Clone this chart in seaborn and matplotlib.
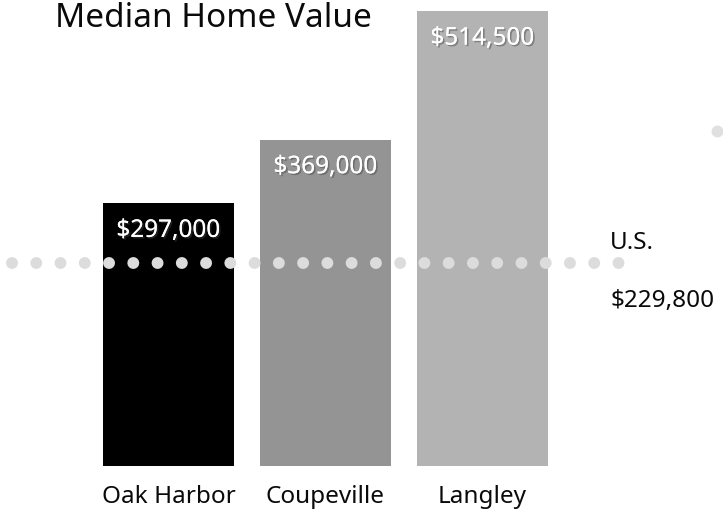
import matplotlib
matplotlib.use("Agg")
import matplotlib.pyplot as plt
import matplotlib.patheffects as pe
import seaborn as sns
import pandas as pd

# Median home values
cities = ["Oak Harbor", "Coupeville", "Langley"]
values = [297000, 369000, 514500]
bar_colors = ["#000000", "#949494", "#b3b3b3"]
us_label = "U.S."
us_value = 229800
title = "Median Home Value"

sns.set_theme(style="white")
FONT = ["Noto Sans", "DejaVu Sans"]
plt.rcParams["font.family"] = FONT

W, H = 723, 516
fig = plt.figure(figsize=(W / 100, H / 100), dpi=100)
ax = fig.add_axes([0, 50 / H, 1, 466 / H])

df = pd.DataFrame({"city": cities, "value": values})
sns.barplot(data=df, x="city", y="value", hue="city", palette=bar_colors,
            width=0.834, saturation=1, legend=False, linewidth=0, ax=ax, zorder=1)

ax.set_xlim(-1.073, 3.532)
ax.set_ylim(0, 527000)
ax.set_axis_off()

# dotted U.S. reference line, drawn above the bars
ax.plot([-0.999, 2.878], [us_value, us_value], color="#dcdcdc",
        linewidth=8.6, linestyle=(0, (0.001, 2.03)), dash_capstyle="round",
        zorder=3)
ax.plot([0.9915], [0.719], marker="o", markersize=8.6, color="#e0e0e0",
        markeredgewidth=0, transform=ax.transAxes, clip_on=False, zorder=3)

# value labels inside the bars
shadow = [pe.withSimplePatchShadow(offset=(1.2, -1.2), shadow_rgbFace="#444444", alpha=0.45),
          pe.Normal()]
FS = 17.5
TXT = "#0a0a0a"
for i, v in enumerate(values):
    ax.annotate(f"${v:,.0f}", (i, v), xytext=(0, -27.5), textcoords="offset pixels",
                ha="center", va="center", color="white", fontsize=FS,
                path_effects=shadow, zorder=4)
    ax.annotate(cities[i], (i, 0), xytext=(0, -31), textcoords="offset pixels",
                ha="center", va="center", color=TXT, fontsize=FS)

# U.S. annotation to the right of the line
ax.annotate(us_label, (2.865, us_value), xytext=(-8, 20), textcoords="offset pixels",
            ha="left", va="center", color=TXT, fontsize=FS)
ax.annotate(f"${us_value:,.0f}", (2.865, us_value), xytext=(-8, -38), textcoords="offset pixels",
            ha="left", va="center", color=TXT, fontsize=FS)

fig.text(55 / W, 1 - 27 / H, title, ha="left", va="baseline",
         fontsize=24, color=TXT)

fig.savefig("out.png", dpi=100, facecolor="white")
